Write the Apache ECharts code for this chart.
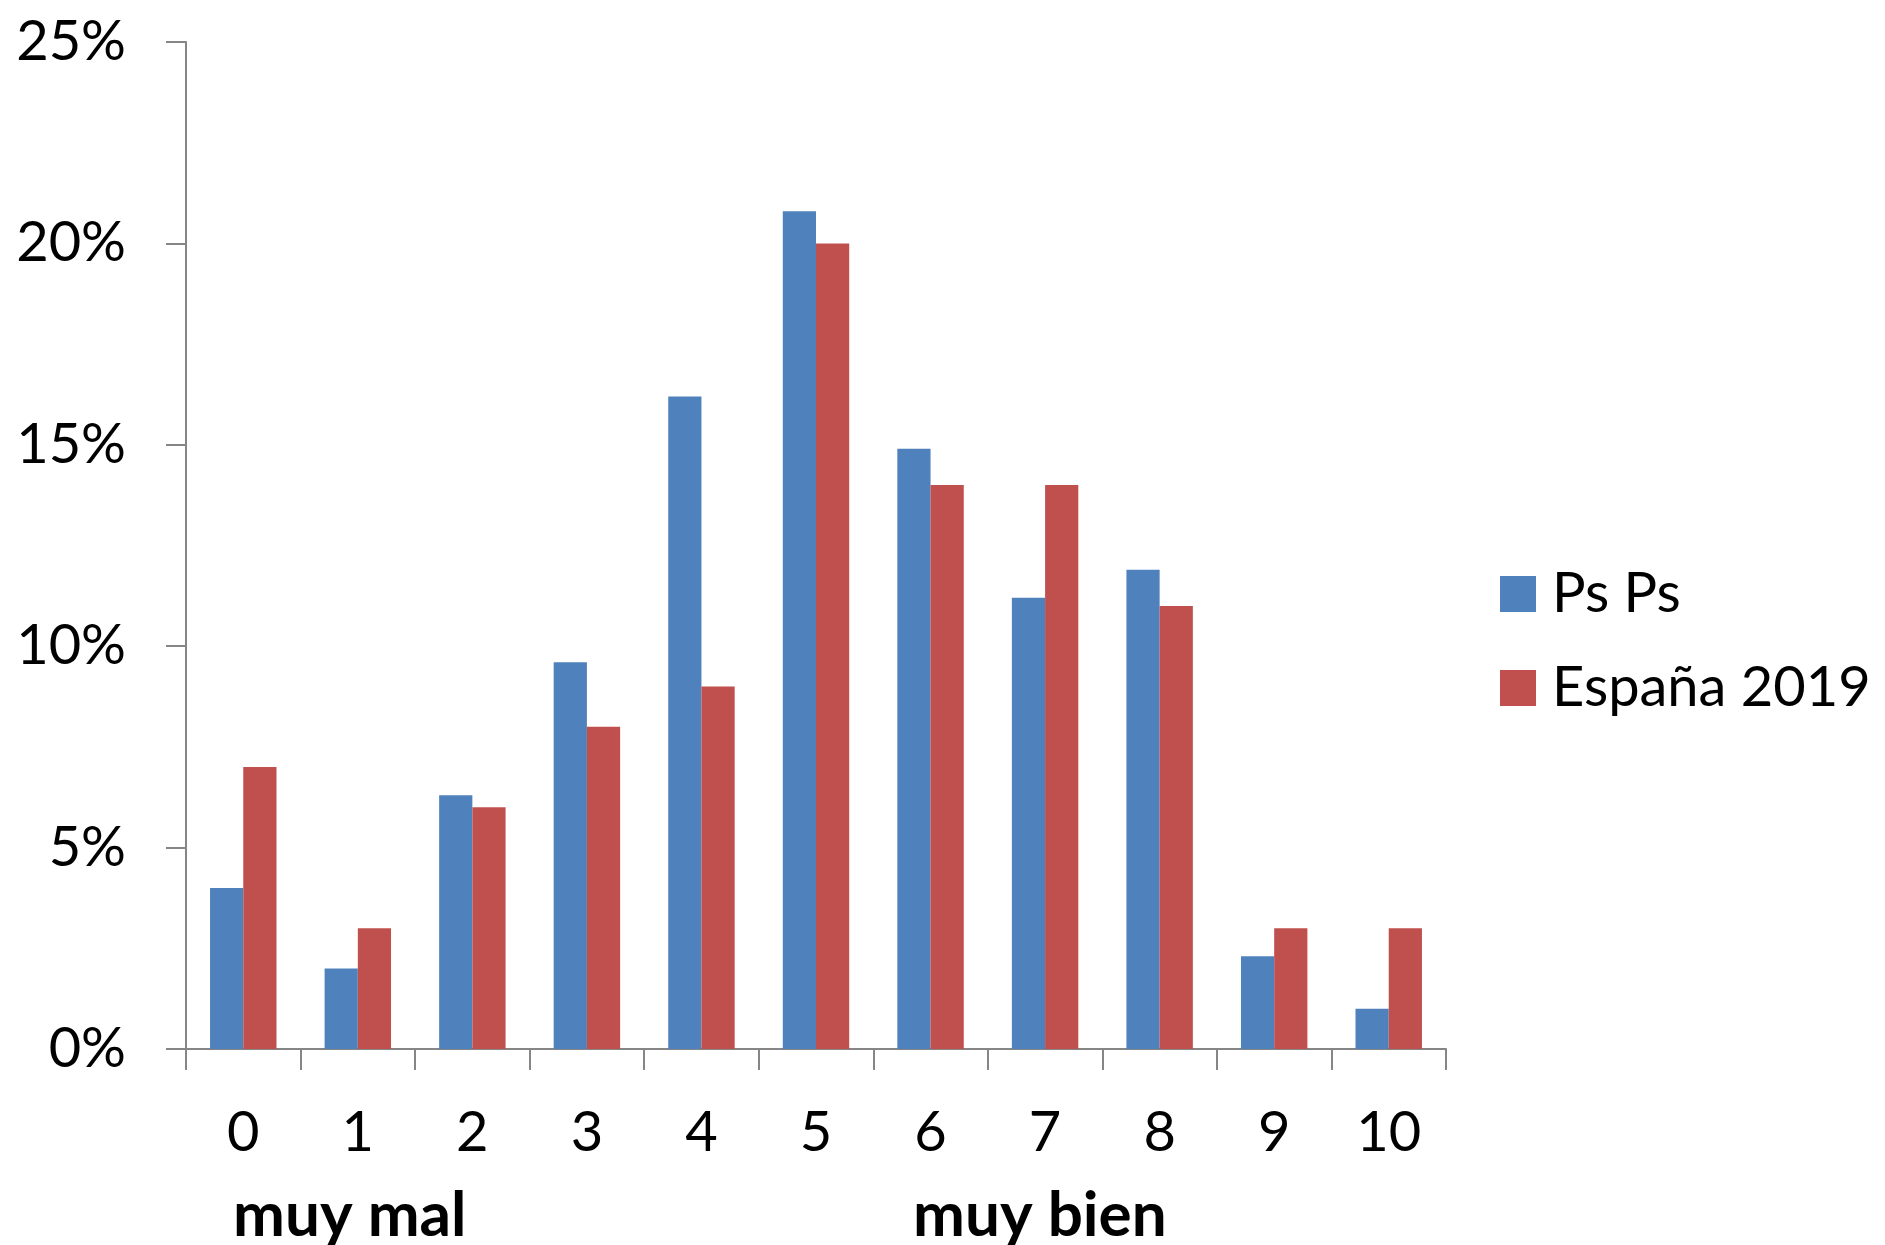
<!DOCTYPE html>
<html>
<head>
<meta charset="utf-8">
<script src="https://cdn.jsdelivr.net/npm/echarts@6/dist/echarts.min.js"></script>
<style>
html,body{margin:0;padding:0;background:#fff;}
#chart{width:1885px;height:1245px;}
</style>
</head>
<body>
<div id="chart"></div>
<script>
const categories = ['0','1','2','3','4','5','6','7','8','9','10'];
const seriesNames = ['Ps Ps', 'España 2019'];
const psps = [4.0, 2.0, 6.3, 9.6, 16.2, 20.8, 14.9, 11.2, 11.9, 2.3, 1.0];
const espana = [7.0, 3.0, 6.0, 8.0, 9.0, 20.0, 14.0, 14.0, 11.0, 3.0, 3.0];
const yTicks = {min: 0, max: 25, interval: 5};
const axisNotes = ['muy mal', 'muy bien'];

const FONT = 'Lato';
const chart = echarts.init(document.getElementById('chart'));
chart.setOption({
  backgroundColor: '#ffffff',
  animation: false,
  textStyle: {fontFamily: FONT},
  grid: {left: 186, right: 439, top: 42, bottom: 196, containLabel: false},
  legend: {
    orient: 'vertical',
    left: 1495,
    top: 560,
    itemWidth: 36,
    itemHeight: 36,
    itemGap: 36,
    icon: 'rect',
    data: seriesNames,
    textStyle: {fontFamily: FONT, fontSize: 56, color: '#000', lineHeight: 58, padding: [0,0,0,11]}
  },
  xAxis: {
    type: 'category',
    data: categories,
    boundaryGap: true,
    axisLine: {lineStyle: {color: '#868686', width: 2}},
    axisTick: {show: true, alignWithLabel: false, length: 21, lineStyle: {color: '#868686', width: 2}},
    axisLabel: {color: '#000', fontSize: 56, fontFamily: FONT, margin: 56, interval: 0}
  },
  yAxis: {
    type: 'value',
    min: yTicks.min, max: yTicks.max, interval: yTicks.interval,
    splitLine: {show: false},
    axisLine: {show: true, lineStyle: {color: '#868686', width: 2}},
    axisTick: {show: true, length: 20, lineStyle: {color: '#868686', width: 2}},
    axisLabel: {color: '#000', fontSize: 56, fontFamily: FONT, margin: 60, formatter: '{value}%'}
  },
  series: [
    {name: seriesNames[0], type: 'bar', data: psps, itemStyle: {color: '#4F81BD'}, barGap: '0%', barCategoryGap: '42%'},
    {name: seriesNames[1], type: 'bar', data: espana, itemStyle: {color: '#C0504D'}, barGap: '0%', barCategoryGap: '42%'}
  ],
  graphic: [
    {type: 'text', left: 233, top: 1185, style: {text: axisNotes[0], fontFamily: FONT, fontWeight: 'bold', fontSize: 62, fill: '#000'}},
    {type: 'text', left: 913, top: 1185, style: {text: axisNotes[1], fontFamily: FONT, fontWeight: 'bold', fontSize: 62, fill: '#000'}}
  ]
});
</script>
</body>
</html>
